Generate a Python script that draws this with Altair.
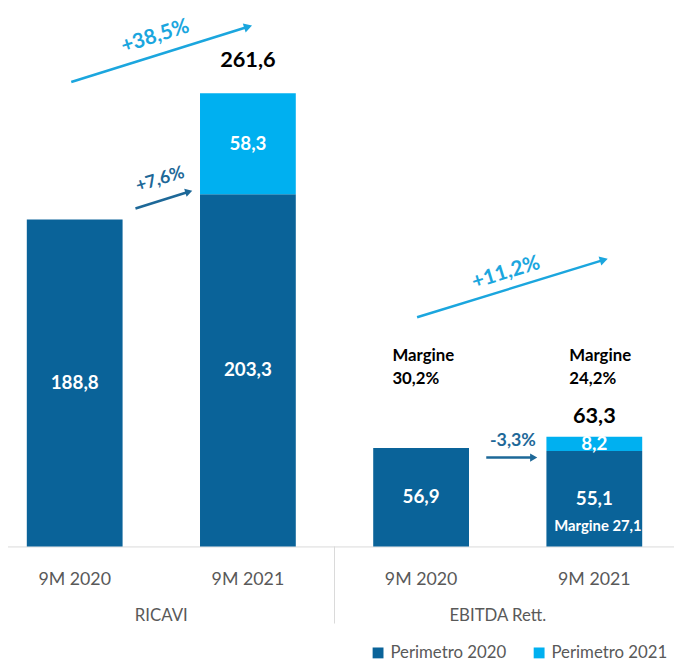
import altair as alt
import pandas as pd

# ---- data ----
keys = ["R20", "R21", "R21", "E20", "E21", "E21"]
segments = ["Perimetro 2020", "Perimetro 2020", "Perimetro 2021",
            "Perimetro 2020", "Perimetro 2020", "Perimetro 2021"]
values = [188.8, 203.3, 58.3, 56.9, 55.1, 8.2]
orders = [0, 0, 1, 0, 0, 1]

categories = ["R20", "R21", "E20", "E21"]
groups = ["RICAVI", "EBITDA Rett."]
margin_labels = ["30,2%", "24,2%"]
growth_labels = ["+38,5%", "+7,6%", "+11,2%", "-3,3%"]
inner_margin_label = "Margine 27,1"

DARK = "#0A6399"
LIGHT = "#00B0F0"
ARROW_LIGHT = "#1BA6DE"
ARROW_DARK = "#1D6898"
GRAY = "#595959"
FONT = "Lato"

df = pd.DataFrame({"key": keys, "segment": segments, "value": values, "ord": orders})

x_scale = alt.Scale(domain=categories, range=[-20.15, 681], paddingInner=0, paddingOuter=0)
y_scale = alt.Scale(domain=[0, 308.6], nice=False, zero=True)

label_expr = "datum.value == 'R20' || datum.value == 'E20' ? '9M 2020' : '9M 2021'"

x_enc = alt.X("key:N", scale=x_scale, sort=categories,
              axis=alt.Axis(title=None, labelExpr=label_expr, ticks=False,
                            labelFont=FONT, labelFontSize=18, labelColor=GRAY,
                            labelPadding=25, domainColor="#D9D9D9", domainWidth=1,
                            labelAngle=0, grid=False))

base = alt.Chart(df)

bars = base.mark_bar(width=alt.RelativeBandSize(0.553)).encode(
    x=x_enc,
    y=alt.Y("value:Q", stack="zero", scale=y_scale, axis=None),
    order=alt.Order("ord:Q", sort="ascending"),
    color=alt.Color("segment:N",
                    scale=alt.Scale(domain=["Perimetro 2020", "Perimetro 2021"],
                                    range=[DARK, LIGHT]),
                    legend=alt.Legend(title=None, orient="none", legendX=366, legendY=640,
                                      direction="horizontal", symbolType="square",
                                      symbolSize=121, symbolStrokeWidth=0,
                                      labelFont=FONT, labelFontSize=17, labelColor=GRAY,
                                      labelOffset=4, columnPadding=24)),
)

stacked = base.transform_stack(
    stack="value", groupby=["key"], as_=["y0", "y1"], sort=[alt.SortField("ord", order="ascending")]
).transform_calculate(
    mid="(datum.y0 + datum.y1) / 2",
    lab="replace(format(datum.value, '.1f'), '.', ',')",
)

inner = stacked.mark_text(font=FONT, fontSize=19, fontWeight="bold", color="white",
                          baseline="middle").encode(
    x=alt.X("key:N", scale=x_scale, sort=categories),
    y=alt.Y("mid:Q", scale=y_scale),
    text="lab:N",
)

totals_base = base.transform_aggregate(total="sum(value)", groupby=["key"]).transform_calculate(
    lab="replace(format(datum.total, '.1f'), '.', ',')")

total_r = totals_base.transform_filter("datum.key == 'R21'").mark_text(
    font=FONT, fontSize=22, fontWeight="bold", color="black", baseline="middle", dy=-34).encode(
    x=alt.X("key:N", scale=x_scale, sort=categories),
    y=alt.Y("total:Q", scale=y_scale), text="lab:N")

total_e = totals_base.transform_filter("datum.key == 'E21'").mark_text(
    font=FONT, fontSize=22, fontWeight="bold", color="black", baseline="middle", dy=-21).encode(
    x=alt.X("key:N", scale=x_scale, sort=categories),
    y=alt.Y("total:Q", scale=y_scale), text="lab:N")

one = alt.Data(values=[{"a": 1}])

group_r = alt.Chart(one).mark_text(font=FONT, fontSize=17, color=GRAY, baseline="middle").encode(
    x=alt.X("k:N", scale=x_scale, sort=categories, bandPosition=0),
    y=alt.value(611), text=alt.value(groups[0])).transform_calculate(k="'R21'")
group_e = alt.Chart(one).mark_text(font=FONT, fontSize=17, color=GRAY, baseline="middle", dx=-10).encode(
    x=alt.X("k:N", scale=x_scale, sort=categories, bandPosition=0),
    y=alt.value(611), text=alt.value(groups[1])).transform_calculate(k="'E21'")

separator = alt.Chart(one).mark_rule(color="#D9D9D9", strokeWidth=1).encode(
    x=alt.X("k:N", scale=x_scale, sort=categories, bandPosition=0),
    y=alt.value(541), y2=alt.value(619)).transform_calculate(k="'E20'")


def arrow(x1, y1, x2, y2, color, width, head_angle, head_size):
    line = alt.Chart(one).mark_rule(color=color, strokeWidth=width).encode(
        x=alt.value(x1), y=alt.value(y1), x2=alt.value(x2), y2=alt.value(y2))
    head = alt.Chart(one).mark_point(shape="triangle-right", filled=True, color=color,
                                     size=head_size, angle=head_angle, opacity=1).encode(
        x=alt.value(x2), y=alt.value(y2))
    return [line, head]


def label(txt, x, y, color, size, angle=0, align="center", weight="bold"):
    return alt.Chart(one).mark_text(font=FONT, fontSize=size, fontWeight=weight, color=color,
                                    angle=angle, align=align, baseline="middle").encode(
        x=alt.value(x), y=alt.value(y), text=alt.value(txt))


ann = []
ann += arrow(64, 71, 243, 15, ARROW_LIGHT, 2.5, 342.5, 90)
ann.append(label(growth_labels[0], 149, 25, ARROW_LIGHT, 21, 342.5))
ann += arrow(129, 199, 183, 182, ARROW_DARK, 2.5, 343, 70)
ann.append(label(growth_labels[1], 154, 170, ARROW_DARK, 18, 343))
ann += arrow(414, 309, 603, 251, ARROW_LIGHT, 2.5, 343, 90)
ann.append(label(growth_labels[2], 504, 264, ARROW_LIGHT, 21, 343))
ann += arrow(484, 451, 532, 451, ARROW_DARK, 2.5, 0, 70)
ann.append(label(growth_labels[3], 511, 434, ARROW_DARK, 18))
ann.append(label("Margine", 389, 348, "black", 17, align="left"))
ann.append(label(margin_labels[0], 389, 372, "black", 17, align="left"))
ann.append(label("Margine", 568, 348, "black", 17, align="left"))
ann.append(label(margin_labels[1], 568, 372, "black", 17, align="left"))
ann.append(label(inner_margin_label, 597, 520, "white", 15))

chart = alt.layer(bars, inner, total_r, total_e, separator, group_r, group_e, *ann).properties(
    width=674, height=541,
    autosize=alt.AutoSizeParams(type="none"),
    padding={"left": 0, "top": 0, "right": 0, "bottom": 112},
    background="white",
).configure_view(stroke=None)

chart.save("out.html", embed_options={"renderer": "svg", "actions": False})
